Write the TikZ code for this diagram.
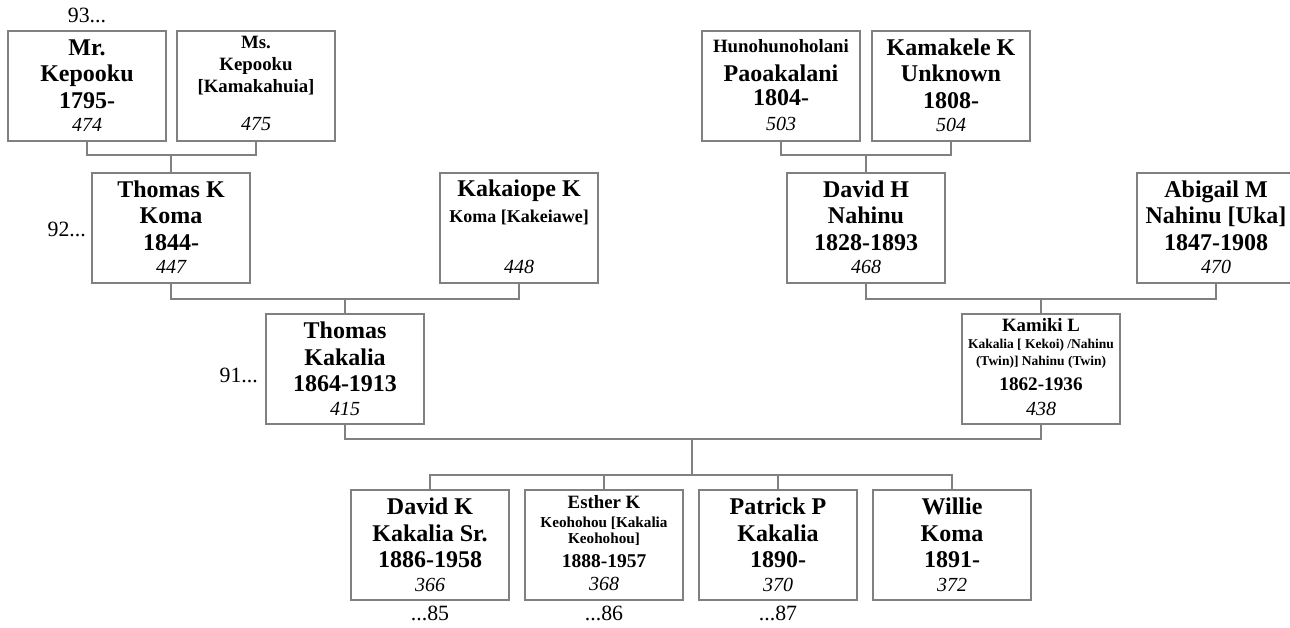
\documentclass[tikz,border=0pt]{standalone}
\usepackage{fontspec}
\setmainfont{Liberation Serif}
\usetikzlibrary{calc}
\definecolor{lc}{RGB}{128,128,128}
\newcommand\pBig{\fontsize{24}{28}\selectfont\bfseries}
\newcommand\pMid{\fontsize{18.8}{22}\selectfont\bfseries}
\newcommand\pSml{\fontsize{15.2}{18}\selectfont\bfseries}
\newcommand\pTny{\fontsize{13.5}{16}\selectfont\bfseries}
\newcommand\pNum{\fontsize{20}{24}\selectfont\mdseries\itshape}
\tikzset{
  pbox/.style={draw=lc, line width=1.3pt, minimum width=158pt, minimum height=110pt, inner sep=0pt, outer sep=0pt, anchor=north west},
  conn/.style={draw=lc, line width=1.3pt},
  tl/.style={anchor=base, inner sep=0pt, text=black},
  lbl/.style={font=\fontsize{21.8}{24}\selectfont, inner sep=0pt, text=black}
}
\newcommand\pline[5]{\node[tl,font=#4] (#1) at ([yshift=-#3pt]#2.north) {#5};}
\newcommand\person[7]{%
  \node[pbox] (#1) at (#2,#3) {};
  \pline{#1a}{#1}{24.5}{\pBig}{#4}
  \pline{#1b}{#1}{51}{\pBig}{#5}
  \pline{#1c}{#1}{77.5}{\pBig}{#6}
  \pline{#1d}{#1}{101}{\pNum}{#7}}
\begin{document}
\begin{tikzpicture}[x=1pt,y=-1pt]
\useasboundingbox (0,0) rectangle (1290,628);
% generation 1
\person{mr}{8}{31}{Mr.}{Kepooku}{1795-}{474}
\node[pbox] (ms) at (177,31) {};
\pline{msa}{ms}{18}{\pMid}{Ms.}
\pline{msb}{ms}{40}{\pMid}{Kepooku}
\pline{msc}{ms}{62}{\pMid}{[Kamakahuia]}
\pline{msd}{ms}{100}{\pNum}{475}
\node[pbox] (hun) at (702,31) {};
\pline{huna}{hun}{22}{\pMid}{Hunohunoholani}
\pline{hunb}{hun}{51}{\pBig}{Paoakalani}
\pline{hunc}{hun}{74.5}{\pBig}{1804-}
\pline{hund}{hun}{100}{\pNum}{503}
\person{kam}{872}{31}{Kamakele K}{Unknown}{1808-}{504}
% generation 2
\person{tk}{92}{173}{Thomas K}{Koma}{1844-}{447}
\node[pbox] (kk) at (440,173) {};
\pline{kka}{kk}{24}{\pBig}{Kakaiope K}
\pline{kkb}{kk}{50}{\fontsize{18}{22}\selectfont\bfseries}{Koma [Kakeiawe]}
\pline{kkd}{kk}{101}{\pNum}{448}
\person{dh}{787}{173}{David H}{Nahinu}{1828-1893}{468}
\person{ab}{1137}{173}{Abigail M}{Nahinu [Uka]}{1847-1908}{470}
% generation 3
\person{tkak}{266}{314}{Thomas}{Kakalia}{1864-1913}{415}
\node[pbox] (km) at (962,314) {};
\pline{kma}{km}{17.7}{\pMid}{Kamiki L}
\pline{kmb}{km}{34}{\pTny}{Kakalia [ Kekoi) /Nahinu}
\pline{kmc}{km}{51.7}{\pTny}{(Twin)] Nahinu (Twin)}
\pline{kme}{km}{76}{\fontsize{19.2}{22}\selectfont\bfseries}{1862-1936}
\pline{kmd}{km}{101}{\pNum}{438}
% generation 4
\person{dk}{351}{490}{David K}{Kakalia Sr.}{1886-1958}{366}
\node[pbox] (es) at (525,490) {};
\pline{esa}{es}{18}{\pMid}{Esther K}
\pline{esb}{es}{37}{\pSml}{Keohohou [Kakalia}
\pline{esc}{es}{53}{\pSml}{Keohohou]}
\pline{ese}{es}{77}{\fontsize{19.5}{22}\selectfont\bfseries}{1888-1957}
\pline{esd}{es}{100}{\pNum}{368}
\person{pp}{699}{490}{Patrick P}{Kakalia}{1890-}{370}
\person{wk}{873}{490}{Willie}{Koma}{1891-}{372}
% labels
\node[lbl,anchor=base] (l93) at ([yshift=8pt]mr.north) {93...};
\node[lbl,anchor=base east] (l92) at ([xshift=-6pt,yshift=-64pt]tk.north west) {92...};
\node[lbl,anchor=base east] (l91) at ([xshift=-8pt,yshift=-68pt]tkak.north west) {91...};
\node[lbl,anchor=base] (l85) at ([yshift=-20pt]dk.south) {...85};
\node[lbl,anchor=base] (l86) at ([yshift=-20pt]es.south) {...86};
\node[lbl,anchor=base] (l87) at ([yshift=-20pt]pp.south) {...87};
% connectors
\draw[conn] (mr.south) -- ++(0,14) -| (ms.south);
\draw[conn] (tk.north) -- ++(0,-18);
\draw[conn] (hun.south) -- ++(0,14) -| (kam.south);
\draw[conn] (dh.north) -- ++(0,-18);
\draw[conn] (tk.south) -- ++(0,16) -| (kk.south);
\draw[conn] (tkak.north) -- ++(0,-16);
\draw[conn] (dh.south) -- ++(0,16) -| (ab.south);
\draw[conn] (km.north) -- ++(0,-16);
\draw[conn] (tkak.south) -- ++(0,15) -| (km.south);
\coordinate (fam) at (692,439);
\draw[conn] (fam) -- ++(0,36);
\draw[conn] (dk.north) -- ++(0,-15) -| (wk.north);
\draw[conn] (es.north) -- ++(0,-15);
\draw[conn] (pp.north) -- ++(0,-15);
\end{tikzpicture}
\end{document}
